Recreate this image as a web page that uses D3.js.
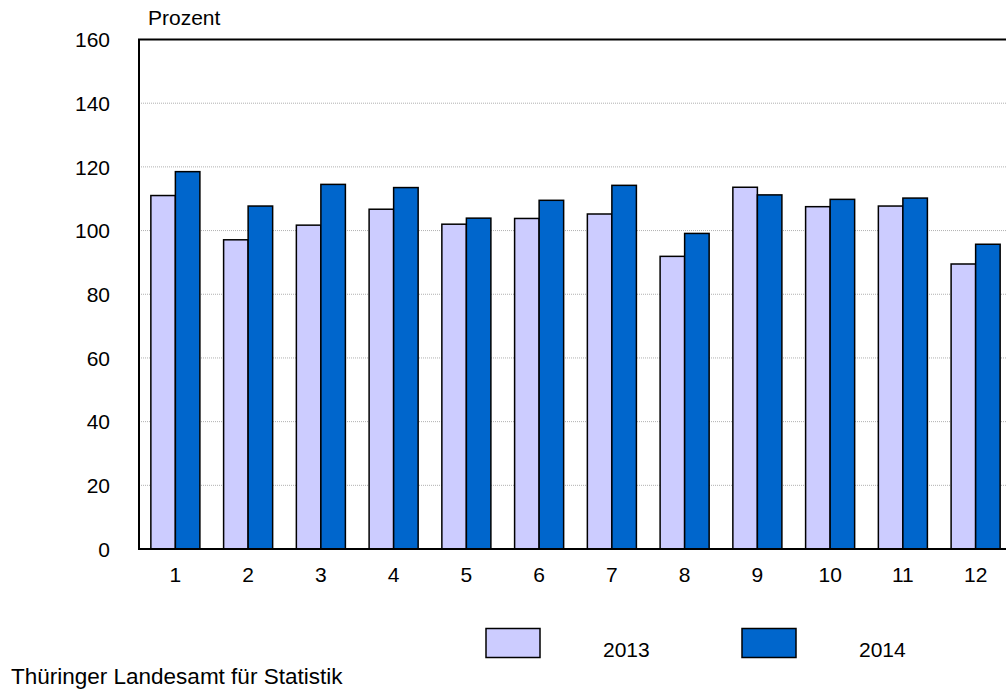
<!DOCTYPE html>
<html>
<head>
<meta charset="utf-8">
<script src="https://cdn.jsdelivr.net/npm/d3@7"></script>
<style>
	body { margin: 0; background: #fff; }
	svg text { font-family: "Liberation Sans", Arial, sans-serif; fill: #000; }
</style>
</head>
<body>
<svg id="chart" width="1006" height="690"></svg>
<script>
//Data
var months = ['1','2','3','4','5','6','7','8','9','10','11','12'];
var values2013 = [111.0, 97.1, 101.7, 106.7, 102.0, 103.8, 105.2, 91.9, 113.6, 107.5, 107.7, 89.5];
var values2014 = [118.5, 107.7, 114.5, 113.5, 103.9, 109.5, 114.2, 99.1, 111.2, 109.8, 110.2, 95.7];
var years = ['2013','2014'];
var yTicks = [0,20,40,60,80,100,120,140,160];

(function() {
	var colors = {'2013': '#ccccff', '2014': '#0066cc'};
	var fontSize = 21;

	//Plot area
	var plotLeft = 139, plotTop = 39.5, plotBottom = 549, plotWidth = 873;

	var svg = d3.select('#chart');

	var x = d3.scaleBand()
		.domain(months)
		.range([plotLeft, plotLeft+plotWidth])
		.paddingInner(0.326)
		.paddingOuter(0.163);

	var xInner = d3.scaleBand()
		.domain(years)
		.range([0, x.bandwidth()]);

	var y = d3.scaleLinear()
		.domain([0,160])
		.range([plotBottom, plotTop]);

	//Gridlines (dotted)
	svg.append('g')
		.selectAll('line')
		.data(yTicks.filter(function(t){return t > 0 && t < 160;}))
		.enter().append('line')
			.attr('x1', plotLeft).attr('x2', plotLeft+plotWidth)
			.attr('y1', function(d){return y(d);})
			.attr('y2', function(d){return y(d);})
			.attr('stroke', '#b0b0b0')
			.attr('stroke-width', 1)
			.attr('stroke-dasharray', '1,1');

	//Bars
	var rows = months.map(function(m,i) {
		return {month: m, values: [
			{year: '2013', v: values2013[i]},
			{year: '2014', v: values2014[i]}
		]};
	});

	svg.append('g')
		.selectAll('g')
		.data(rows)
		.enter().append('g')
			.attr('transform', function(d){return 'translate('+x(d.month)+',0)';})
		.selectAll('rect')
			.data(function(d){return d.values;})
			.enter().append('rect')
				.attr('x', function(d){return xInner(d.year);})
				.attr('width', xInner.bandwidth())
				.attr('y', function(d){return y(d.v);})
				.attr('height', function(d){return y(0)-y(d.v);})
				.attr('fill', function(d){return colors[d.year];})
				.attr('stroke', '#000')
				.attr('stroke-width', 1.5);

	//Frame: left, top, bottom (right side falls outside the picture)
	svg.append('rect')
		.attr('x', plotLeft).attr('y', plotTop)
		.attr('width', plotWidth).attr('height', plotBottom-plotTop)
		.attr('fill', 'none')
		.attr('stroke', '#000')
		.attr('stroke-width', 2);

	//Y axis
	var yAxis = svg.append('g')
		.attr('transform', 'translate('+(plotLeft-29)+',0)')
		.call(d3.axisLeft(y).tickValues(yTicks).tickSize(0).tickPadding(0));
	yAxis.select('.domain').remove();
	yAxis.selectAll('text')
		.style('font-size', fontSize+'px')
		.attr('dy', '0.35em');

	//X axis
	var xAxis = svg.append('g')
		.attr('transform', 'translate(0,'+plotBottom+')')
		.call(d3.axisBottom(x).tickSize(0).tickPadding(18));
	xAxis.select('.domain').remove();
	xAxis.selectAll('text')
		.style('font-size', fontSize+'px');

	//Unit label
	svg.append('text')
		.attr('x', 148).attr('y', 25)
		.style('font-size', fontSize+'px')
		.text('Prozent');

	//Legend
	var legendX = [486, 742];
	var legend = svg.append('g')
		.selectAll('g')
		.data(years)
		.enter().append('g')
			.attr('transform', function(d,i){return 'translate('+legendX[i]+',628.5)';});
	legend.append('rect')
		.attr('width', 54).attr('height', 29)
		.attr('fill', function(d){return colors[d];})
		.attr('stroke', '#000')
		.attr('stroke-width', 1.5);
	legend.append('text')
		.attr('x', 117).attr('y', 28)
		.style('font-size', fontSize+'px')
		.text(function(d){return d;});

	//Source
	svg.append('text')
		.attr('x', 11).attr('y', 684)
		.style('font-size', '22.5px')
		.text('Thüringer Landesamt für Statistik');
})();
</script>
</body>
</html>
